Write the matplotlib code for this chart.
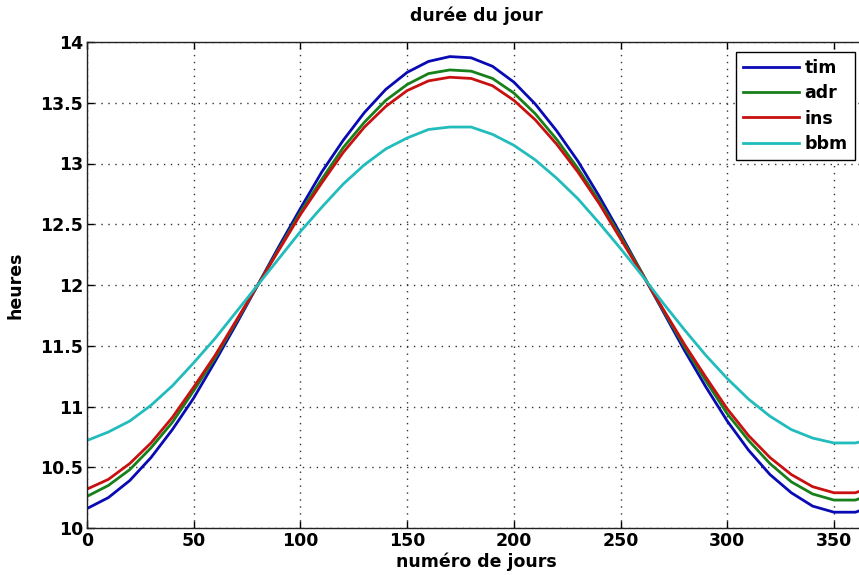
import matplotlib
matplotlib.use("Agg")
import matplotlib.pyplot as plt

days = [0, 10, 20, 30, 40, 50, 60, 70, 80, 90, 100, 110, 120, 130, 140, 150, 160, 170,
        180, 190, 200, 210, 220, 230, 240, 250, 260, 270, 280, 290, 300, 310, 320, 330,
        340, 350, 360, 365]

tim = [10.16, 10.25, 10.39, 10.58, 10.81, 11.07, 11.37, 11.68, 12.00, 12.32, 12.63, 12.93,
       13.19, 13.42, 13.61, 13.75, 13.84, 13.88, 13.87, 13.80, 13.67, 13.49, 13.27, 13.02,
       12.73, 12.42, 12.10, 11.78, 11.46, 11.16, 10.88, 10.64, 10.44, 10.29, 10.18, 10.13,
       10.13, 10.16]
adr = [10.26, 10.35, 10.48, 10.66, 10.87, 11.13, 11.40, 11.70, 12.00, 12.30, 12.60, 12.87,
       13.13, 13.34, 13.52, 13.65, 13.74, 13.77, 13.76, 13.70, 13.58, 13.41, 13.20, 12.96,
       12.69, 12.40, 12.10, 11.79, 11.49, 11.21, 10.94, 10.72, 10.53, 10.38, 10.28, 10.23,
       10.23, 10.26]
ins = [10.32, 10.40, 10.53, 10.70, 10.91, 11.16, 11.42, 11.71, 12.00, 12.29, 12.58, 12.84,
       13.09, 13.30, 13.47, 13.60, 13.68, 13.71, 13.70, 13.64, 13.52, 13.36, 13.16, 12.93,
       12.67, 12.38, 12.09, 11.80, 11.51, 11.24, 10.98, 10.76, 10.58, 10.44, 10.34, 10.29,
       10.29, 10.32]
bbm = [10.72, 10.79, 10.88, 11.01, 11.17, 11.36, 11.56, 11.78, 12.00, 12.22, 12.44, 12.64,
       12.83, 12.99, 13.12, 13.21, 13.28, 13.30, 13.30, 13.24, 13.15, 13.03, 12.88, 12.71,
       12.51, 12.30, 12.08, 11.85, 11.63, 11.42, 11.23, 11.06, 10.92, 10.81, 10.74, 10.70,
       10.70, 10.72]

series = [("tim", tim, "#0a0ab4"), ("adr", adr, "#17801a"), ("ins", ins, "#c81010"),
          ("bbm", bbm, "#22bcbc")]

xticks = [0, 50, 100, 150, 200, 250, 300, 350]
yticks = [10, 10.5, 11, 11.5, 12, 12.5, 13, 13.5, 14]
yticklabels = ["10", "10.5", "11", "11.5", "12", "12.5", "13", "13.5", "14"]

plt.rcParams['font.family'] = ['DejaVu Sans']
plt.rcParams['font.weight'] = 'bold'
FS = 12.5

W, H = 859, 575
fig = plt.figure(figsize=(W / 100, H / 100), dpi=100)
ax = fig.add_axes([87 / W, 47 / H, (866 - 87) / W, (528 - 42) / H])

for name, vals, col in series:
    ax.plot(days, vals, color=col, lw=2.0, label=name)

ax.set_xlim(0, 365)
ax.set_ylim(10, 14)
ax.set_xticks(xticks)
ax.set_xticklabels([str(t) for t in xticks])
ax.set_yticks(yticks)
ax.set_yticklabels(yticklabels)
ax.tick_params(direction='in', top=True, right=True, labelsize=FS, length=5, width=1, pad=3)
for lab in ax.get_xticklabels() + ax.get_yticklabels():
    lab.set_fontweight('bold')
for s in ax.spines.values():
    s.set_linewidth(1.0)
    s.set_color('#222222')
ax.grid(True, linestyle=(0, (1, 4)), color='#333333', linewidth=1.0)

ax.set_title("durée du jour", fontsize=FS, fontweight='bold', pad=15)
ax.set_xlabel("numéro de jours", fontsize=FS, fontweight='bold', labelpad=2)
ax.set_ylabel("heures", fontsize=FS, fontweight='bold', labelpad=11)

leg = ax.legend(loc='upper left', bbox_to_anchor=(736 / W, 1 - 52 / H),
                bbox_transform=fig.transFigure, borderaxespad=0, fancybox=False,
                framealpha=1, edgecolor='black', handlelength=3.2, handletextpad=0.35,
                labelspacing=0.42, prop={'weight': 'bold', 'size': FS}, borderpad=0.4)
leg.get_frame().set_linewidth(1.0)

fig.savefig("out.png", dpi=100)
